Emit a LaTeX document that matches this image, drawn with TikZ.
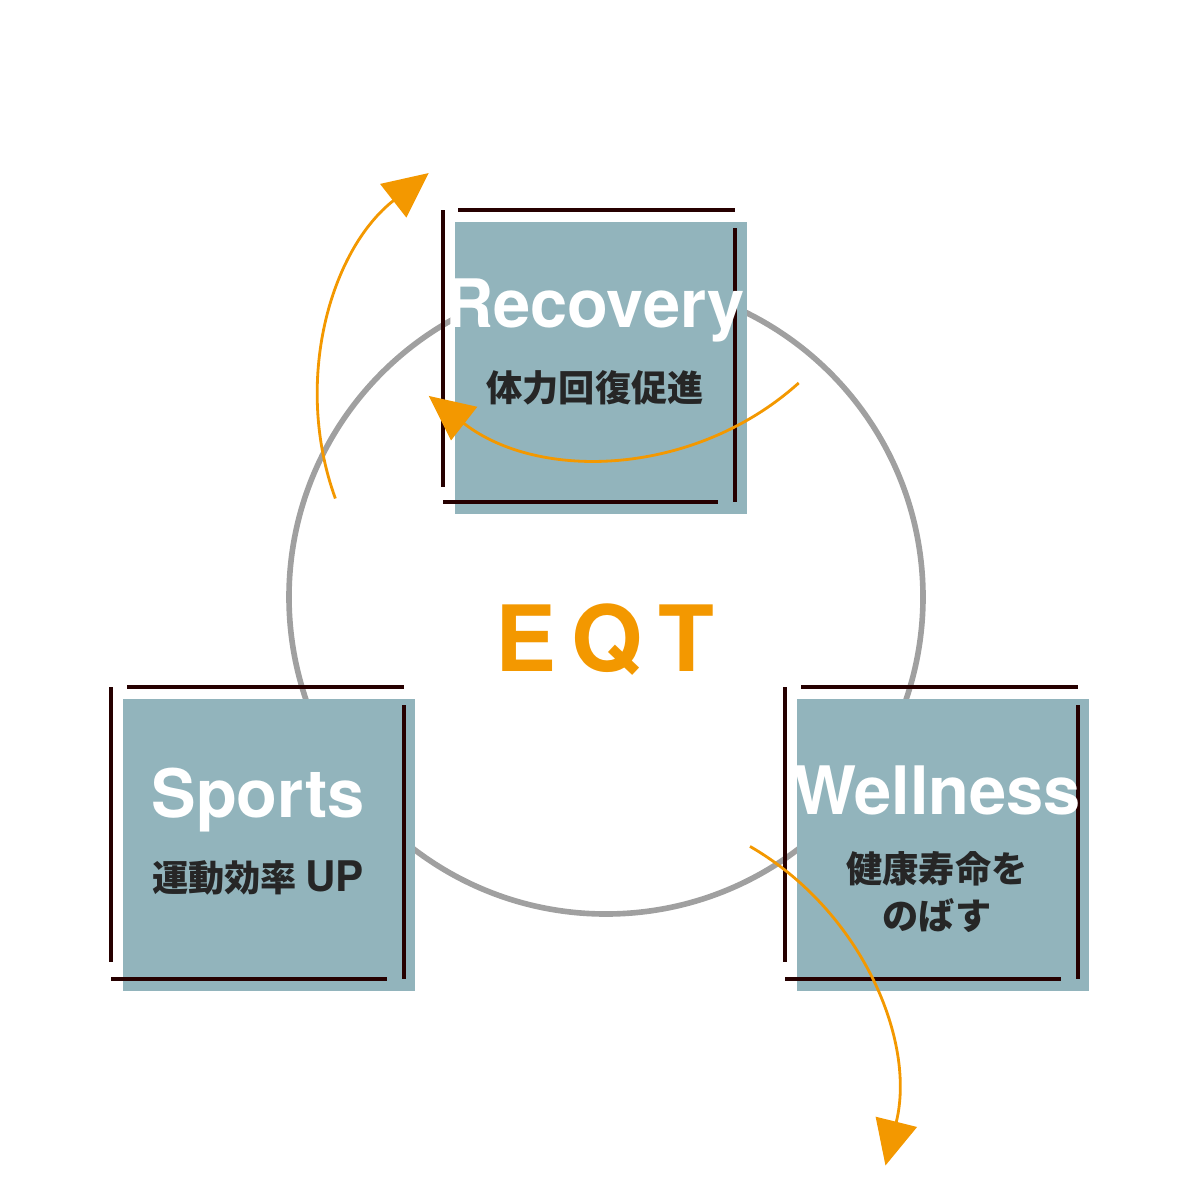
\documentclass[tikz,border=0pt]{standalone}
\usepackage{fontspec}
\setmainfont{TeX Gyre Heros}
\newfontfamily\jpfont{Noto Sans CJK JP}
\usetikzlibrary{arrows.meta}
\definecolor{boxfill}{HTML}{92B4BC}
\definecolor{eqtorange}{HTML}{F39800}
\definecolor{ringgray}{HTML}{A0A0A0}
\tikzset{
  card/.style={fill=boxfill, draw=none},
  frame/.style={draw=black!85!red, line width=0.9pt},
  title/.style={text=white, font=\fontsize{19}{22}\selectfont\bfseries},
  sub/.style={text=black!85, font=\jpfont\fontsize{10.3}{13.5}\selectfont\bfseries, align=center},
  flow/.style={draw=eqtorange, line width=0.8pt, -{Triangle[length=0.45cm,width=0.42cm]}}
}
\begin{document}
\begin{tikzpicture}[x=0.01cm,y=-0.01cm]
\useasboundingbox (0,0) rectangle (1200,1200);
\coordinate (c) at (606,597);
\draw[ringgray, line width=1.6pt] (c) circle (317);
% Recovery
\fill[card] (455,222) rectangle (747,514);
\draw[frame] (458,210) -- (735,210);
\draw[frame] (443,210) -- (443,487);
\draw[frame] (735,228) -- (735,502);
\draw[frame] (443,502) -- (718,502);
\node[title] (rec) at (595,310) {Recovery};
\node[sub] (recsub) at (595,388) {体力回復促進};
% Sports
\fill[card] (123,699) rectangle (415,991);
\draw[frame] (127,687) -- (404,687);
\draw[frame] (111,687) -- (111,962);
\draw[frame] (404,705) -- (404,979);
\draw[frame] (111,979) -- (387,979);
\node[title] (spo) at (258,800) {Sports};
\node[sub] (sposub) at (258,878) {運動効率 {\fontspec{TeX Gyre Heros}\fontsize{12}{14}\selectfont\bfseries UP}};
% Wellness
\fill[card] (797,699) rectangle (1089,991);
\draw[frame] (801,687) -- (1078,687);
\draw[frame] (785,687) -- (785,962);
\draw[frame] (1078,705) -- (1078,979);
\draw[frame] (785,979) -- (1061,979);
\node[title] (wel) at (937,790) {Wellness};
\node[sub] (welsub) at (937,892) {健康寿命を\\のばす};
% cycle
\draw[flow] ([shift={(60:288)}]c) arc[start angle=-60, end angle=14, radius=288];
\draw[flow] ([shift={(-48:288)}]c) arc[start angle=48, end angle=128, radius=288];
\draw[flow] ([shift={(200:288)}]c) arc[start angle=160, end angle=232, radius=288];
\node[text=eqtorange, font=\fontsize{26}{30}\selectfont\bfseries] (eqt) at (605,640) {E\,Q\,T};
\end{tikzpicture}
\end{document}
